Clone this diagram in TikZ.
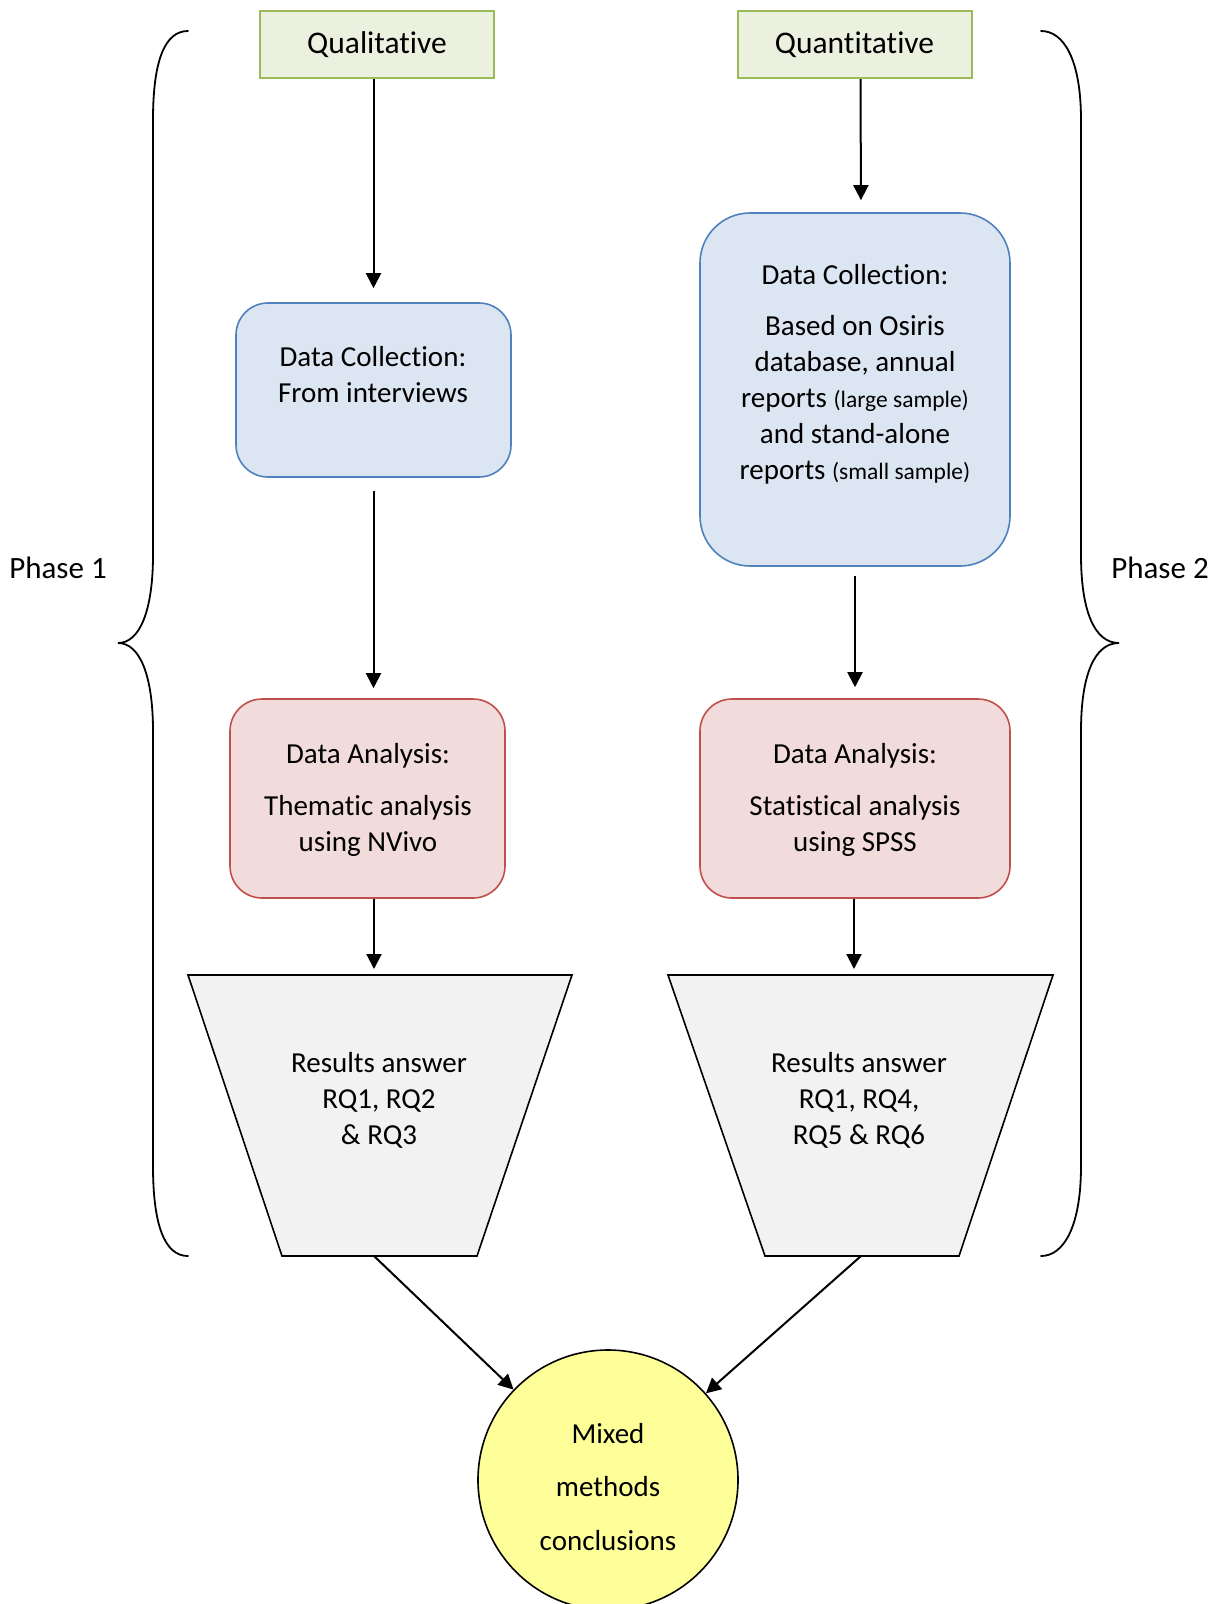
\documentclass[tikz,border=0pt]{standalone}
\usepackage{fontspec}
\setmainfont{Carlito}[RawFeature={-liga}]
\usetikzlibrary{arrows.meta}
\definecolor{greenfill}{HTML}{EBF1DE}
\definecolor{greenline}{HTML}{9BBB59}
\definecolor{bluefill}{HTML}{DCE6F2}
\definecolor{blueline}{HTML}{4F81BD}
\definecolor{redfill}{HTML}{F2DCDB}
\definecolor{redline}{HTML}{C0504D}
\definecolor{grayfill}{HTML}{F2F2F2}
\definecolor{yellowfill}{HTML}{FFFF99}
\newcommand{\smalltxt}[1]{{\fontsize{23.5}{36}\selectfont #1}}
\tikzset{
  headbox/.style={draw=greenline, fill=greenfill, line width=2pt, minimum width=234pt,
    minimum height=67pt, inner sep=0pt, font=\fontsize{31.5}{38}\selectfont},
  collectbox/.style={draw=blueline, fill=bluefill, line width=1.6pt, inner sep=0pt},
  analysisbox/.style={draw=redline, fill=redfill, line width=1.6pt, inner sep=0pt,
    rounded corners=32pt, minimum width=275pt, minimum height=199pt},
  funnel/.style={draw=black, fill=grayfill, line width=1.6pt, line join=miter},
  bodytext/.style={align=center, inner sep=0pt, font=\fontsize{29}{36}\selectfont},
  phasetext/.style={inner sep=0pt, font=\fontsize{31}{38}\selectfont},
  arr/.style={line width=2pt, -{Triangle[length=15pt,width=15pt]}},
  bracket/.style={line width=1.8pt, line cap=round},
}
\begin{document}
\begin{tikzpicture}[x=1pt,y=-1pt]
\useasboundingbox[fill=white] (0,0) rectangle (1220,1604);

% column headings
\node[headbox] (qual) at (377,44.5) {Qualitative};
\node[headbox] (quant) at (854.5,44.5) {Quantitative};

% data collection
\node[collectbox, rounded corners=32pt, minimum width=275pt, minimum height=174pt] (dcL) at (373.5,390) {};
\node[bodytext] (dcLt) at (373,375) {Data Collection:\\From interviews};
\node[collectbox, rounded corners=50pt, minimum width=310pt, minimum height=353pt] (dcR) at (855,389.5) {};
\node[bodytext] (dcRt) at (855,374) {Data Collection:\\[15pt]Based on Osiris\\database, annual\\reports \smalltxt{(large sample)}\\and stand-alone\\reports \smalltxt{(small sample)}};

% data analysis
\node[analysisbox] (daL) at (367.5,798.5) {};
\node[bodytext] (daLt) at (368,800) {Data Analysis:\\[16pt]Thematic analysis\\using NVivo};
\node[analysisbox, minimum width=310pt] (daR) at (855,798.5) {};
\node[bodytext] (daRt) at (855,800) {Data Analysis:\\[16pt]Statistical analysis\\using SPSS};

% results funnels
\draw[funnel] (188,975) -- (572,975) -- (477,1256) -- (282,1256) -- cycle;
\coordinate (trLtop) at (374,975);
\coordinate (trLbot) at (374,1256);
\node[bodytext] (trLt) at (379,1100.5) {Results answer\\RQ1, RQ2\\\& RQ3};
\draw[funnel] (668,975) -- (1053,975) -- (959,1256) -- (765,1256) -- cycle;
\coordinate (trRtop) at (854,975);
\coordinate (trRbot) at (861,1256);
\node[bodytext] (trRt) at (859,1100.5) {Results answer\\RQ1, RQ4,\\RQ5 \& RQ6};

% conclusions
\node[circle, draw=black, fill=yellowfill, line width=1.6pt, minimum size=260pt, inner sep=0pt] (circ) at (608,1480) {};
\node[bodytext, font=\fontsize{29}{53.5}\selectfont] (circt) at (608,1487) {Mixed\\methods\\conclusions};

% phases
\node[phasetext] (ph1) at (58,568) {Phase 1};
\node[phasetext] (ph2) at (1160,568) {Phase 2};

% connectors
\draw[arr, shorten >=14pt] (dcL.north |- qual.south) -- (dcL.north);
\draw[arr, shorten <=13pt, shorten >=10pt] (dcL.south) -- (dcL.south |- daL.north);
\draw[arr, shorten >=6pt] (daL.south -| trLtop) -- (trLtop);
\draw[arr, shorten >=12pt] ([xshift=6pt]quant.south) -- ([xshift=6pt]dcR.north);
\draw[arr, shorten <=9pt, shorten >=11pt] (dcR.south) -- (daR.north);
\draw[arr, shorten >=6pt] (daR.south -| trRtop) -- (trRtop);
\draw[arr] (trLbot) -- (circ);
\draw[arr] (trRbot) -- (circ);

% phase brackets
\draw[bracket] (188,31) .. controls (165,31) and (153,60) .. (153,120) -- (153,555)
  .. controls (153,610) and (140,643) .. (118,643)
  .. controls (140,643) and (153,676) .. (153,731) -- (153,1166)
  .. controls (153,1226) and (165,1256) .. (188,1256);
\draw[bracket] (1041,31) .. controls (1064,31) and (1081,60) .. (1081,120) -- (1081,555)
  .. controls (1081,610) and (1094,643) .. (1119,643)
  .. controls (1094,643) and (1081,676) .. (1081,731) -- (1081,1166)
  .. controls (1081,1226) and (1064,1256) .. (1041,1256);
\end{tikzpicture}
\end{document}
